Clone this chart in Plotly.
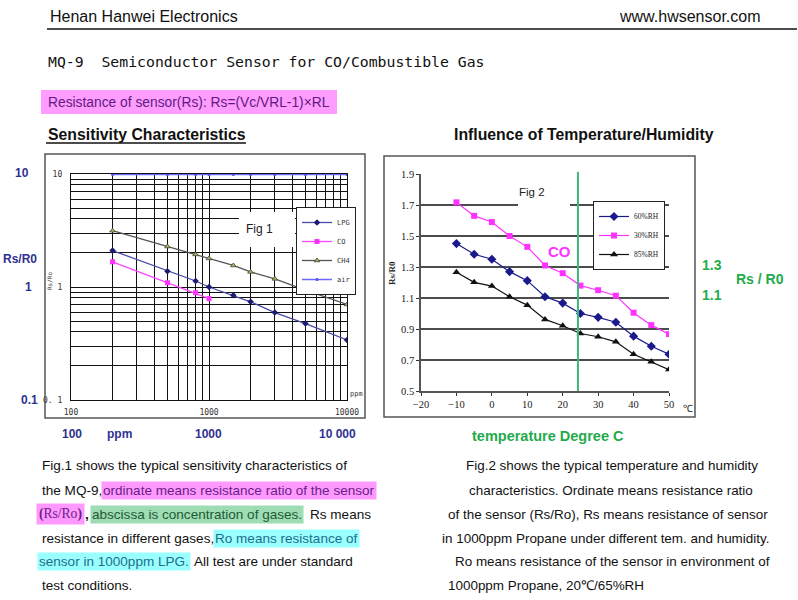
import plotly.graph_objects as go

W, H = 798, 600
def px(x): return x / W
def py(y): return 1 - y / H

# ---------------- data: Fig 1 (sensitivity) ----------------
ppm = [200, 500, 800, 1000, 1500, 2000, 3000, 5000, 10000]
lpg = [2.1, 1.38, 1.13, 1.0, 0.845, 0.74, 0.594, 0.475, 0.34]
co_ppm = [200, 500, 800, 1000]
co = [1.67, 1.09, 0.89, 0.79]
ch4 = [3.15, 2.28, 1.94, 1.79, 1.55, 1.36, 1.18, 0.94, 0.70]
air = [9.9, 9.9, 9.9, 9.9, 9.9, 9.9, 9.9, 9.9, 9.9]
fig1_xgrid = [100, 200, 300, 400, 500, 600, 700, 800, 900,
              1000, 2000, 3000, 4000, 5000, 6000, 7000, 8000, 9000, 10000]
fig1_xlabels = ['100', '', '', '', '', '', '', '', '',
                '1000', '', '', '', '', '', '', '', '', '10000']
fig1_ygrid = [0.1, 0.2, 0.3, 0.4, 0.5, 0.6, 0.7, 0.8, 0.9,
              1, 2, 3, 4, 5, 6, 7, 8, 9, 10]
fig1_ylabels = ['0. 1', '', '', '', '', '', '', '', '',
                '1', '', '', '', '', '', '', '', '', '10']

# ---------------- data: Fig 2 (temperature / humidity) ----------------
temp = [-10, -5, 0, 5, 10, 15, 20, 25, 30, 35, 40, 45, 50]
rh60 = [1.451, 1.382, 1.35, 1.27, 1.212, 1.108, 1.067, 1.0, 0.975, 0.944, 0.854, 0.789, 0.737]
rh30 = [1.717, 1.63, 1.59, 1.50, 1.43, 1.31, 1.26, 1.18, 1.15, 1.115, 1.005, 0.925, 0.867]
rh85 = [1.266, 1.201, 1.177, 1.108, 1.054, 0.962, 0.921, 0.871, 0.85, 0.817, 0.737, 0.688, 0.638]
fig2_xticks = [-20, -10, 0, 10, 20, 30, 40, 50]
fig2_xlabels = ['\u221220', '\u221210', '0', '10', '20', '30', '40', '50']
fig2_yticks = [0.5, 0.7, 0.9, 1.1, 1.3, 1.5, 1.7, 1.9]
fig2_ylabels = ['0.5', '0.7', '0.9', '1.1', '1.3', '1.5', '1.7', '1.9']
fig2_grid = [0.7, 0.9, 1.1, 1.3, 1.5, 1.7]
ref_temp = 24.3

fig = go.Figure()

# Fig 1 traces
fig.add_trace(go.Scatter(x=ppm, y=lpg, name='LPG', mode='lines+markers',
                         line=dict(color='#4a4aa8', width=1.3),
                         marker=dict(symbol='diamond', size=5, color='#1a1a70'),
                         xaxis='x', yaxis='y', legend='legend'))
fig.add_trace(go.Scatter(x=co_ppm, y=co, name='CO', mode='lines+markers',
                         line=dict(color='#ff44ff', width=1.3),
                         marker=dict(symbol='square', size=5, color='#ff33ff'),
                         xaxis='x', yaxis='y', legend='legend'))
fig.add_trace(go.Scatter(x=ppm, y=ch4, name='CH4', mode='lines+markers',
                         line=dict(color='#555555', width=1.3),
                         marker=dict(symbol='triangle-up', size=5, color='#b8b050',
                                     line=dict(color='#444', width=0.8)),
                         xaxis='x', yaxis='y', legend='legend'))
fig.add_trace(go.Scatter(x=ppm, y=air, name='air', mode='lines+markers',
                         line=dict(color='#6b6bff', width=1.5),
                         marker=dict(symbol='circle', size=3, color='#5050ee'),
                         xaxis='x', yaxis='y', legend='legend'))

# Fig 2 traces
fig.add_trace(go.Scatter(x=temp, y=rh60, name='60%RH', mode='lines+markers',
                         line=dict(color='#1a1a8c', width=1.2),
                         marker=dict(symbol='diamond', size=7, color='#1a1a8c'),
                         xaxis='x2', yaxis='y2', legend='legend2'))
fig.add_trace(go.Scatter(x=temp, y=rh30, name='30%RH', mode='lines+markers',
                         line=dict(color='#ff33ff', width=1.2),
                         marker=dict(symbol='square', size=6, color='#ff33ff'),
                         xaxis='x2', yaxis='y2', legend='legend2'))
fig.add_trace(go.Scatter(x=temp, y=rh85, name='85%RH', mode='lines+markers',
                         line=dict(color='#111111', width=1.2),
                         marker=dict(symbol='triangle-up', size=7, color='#111111'),
                         xaxis='x2', yaxis='y2', legend='legend2'))

mono = 'DejaVu Sans Mono'
serif = 'Liberation Serif'
sans = 'Liberation Sans'

fig.update_layout(
    width=W, height=H, margin=dict(l=0, r=0, t=0, b=0, pad=0, autoexpand=False),
    paper_bgcolor='white', plot_bgcolor='white',
    xaxis=dict(type='log', range=[2, 4], domain=[px(71), px(347)], anchor='y',
               tickvals=fig1_xgrid, ticktext=fig1_xlabels, ticks='',
               showgrid=True, gridcolor='#111', gridwidth=1.3,
               showline=True, linecolor='#111', linewidth=1.3, mirror=True,
               zeroline=False, tickfont=dict(family=mono, size=8, color='#333'),
               ticklabelstandoff=4, automargin=False),
    yaxis=dict(type='log', range=[-1, 1], domain=[py(400), py(174)], anchor='x',
               tickvals=fig1_ygrid, ticktext=fig1_ylabels, ticks='',
               showgrid=True, gridcolor='#111', gridwidth=1.3,
               showline=True, linecolor='#111', linewidth=1.3, mirror=True,
               zeroline=False, tickfont=dict(family=mono, size=8, color='#333'),
               ticklabelstandoff=6, automargin=False),
    xaxis2=dict(range=[-20, 50], domain=[px(421), px(669)], anchor='y2',
                tickvals=fig2_xticks, ticktext=fig2_xlabels,
                ticks='outside', ticklen=3, tickcolor='#333',
                showgrid=False, zeroline=False,
                showline=True, linecolor='#555', linewidth=1.5,
                tickfont=dict(family=serif, size=10.5, color='#222'), automargin=False),
    yaxis2=dict(range=[0.5, 1.9], domain=[py(391), py(174)], anchor='x2',
                tickvals=fig2_yticks, ticktext=fig2_ylabels,
                ticks='outside', ticklen=3, tickcolor='#333',
                showgrid=False, zeroline=False,
                showline=True, linecolor='#555', linewidth=1.5,
                tickfont=dict(family=serif, size=10.5, color='#222'), automargin=False),
    legend=dict(x=px(296), y=py(207), xanchor='left', yanchor='top',
                bgcolor='white', bordercolor='#222', borderwidth=1,
                font=dict(family=mono, size=7, color='#333'),
                tracegroupgap=0, itemwidth=30),
    legend2=dict(x=px(593), y=py(201), xanchor='left', yanchor='top',
                 bgcolor='white', bordercolor='#222', borderwidth=1,
                 font=dict(family=serif, size=7.5, color='#222'),
                 tracegroupgap=0, itemwidth=30),
    showlegend=True,
)

shapes = []
# outer boxes of the two figures
shapes.append(dict(type='rect', xref='paper', yref='paper', x0=px(45), x1=px(365),
                   y0=py(418), y1=py(154), line=dict(color='#555', width=1.5)))
shapes.append(dict(type='rect', xref='paper', yref='paper', x0=px(384), x1=px(695),
                   y0=py(417), y1=py(156), line=dict(color='#555', width=1.5)))
# Fig 2 horizontal grid
for g in fig2_grid:
    shapes.append(dict(type='line', xref='x2 domain', yref='y2', x0=0, x1=1, y0=g, y1=g,
                       line=dict(color='#111', width=1.3), layer='below'))
# green reference line
shapes.append(dict(type='line', xref='x2', yref='y2 domain', x0=ref_temp, x1=ref_temp,
                   y0=0, y1=1.01, line=dict(color='#3cb878', width=2), layer='above'))
# white patches behind figure labels
shapes.append(dict(type='rect', xref='paper', yref='paper', x0=px(239), x1=px(295),
                   y0=py(247), y1=py(212), fillcolor='white', line=dict(width=0), layer='above'))
shapes.append(dict(type='rect', xref='paper', yref='paper', x0=px(518), x1=px(570),
                   y0=py(207), y1=py(182), fillcolor='white', line=dict(width=0), layer='above'))
# header rule
shapes.append(dict(type='line', xref='paper', yref='paper', x0=px(47), x1=px(797),
                   y0=py(29), y1=py(29), line=dict(color='#111', width=1.5)))
# pink formula box
shapes.append(dict(type='rect', xref='paper', yref='paper', x0=px(41), x1=px(337),
                   y0=py(114), y1=py(90), fillcolor='#ff9cff', line=dict(width=0), layer='below'))
# underline of section title
shapes.append(dict(type='line', xref='paper', yref='paper', x0=px(46), x1=px(246),
                   y0=py(143), y1=py(143), line=dict(color='#111', width=1.5)))
fig.update_layout(shapes=shapes)

ann = []
def T(x, y, text, size=13.55, color='#111', family=sans, xanchor='left', bg=None,
      angle=0, pad=1):
    d = dict(xref='paper', yref='paper', x=px(x), y=py(y), text=text, showarrow=False,
             xanchor=xanchor, yanchor='middle', textangle=angle,
             font=dict(family=family, size=size, color=color), borderpad=pad)
    if bg:
        d['bgcolor'] = bg
    ann.append(d)

# header
T(48, 17, 'Henan Hanwei Electronics', size=16)
T(763, 17, 'www.hwsensor.com', size=16, xanchor='right')
T(46, 61, 'MQ-9\u00a0\u00a0Semiconductor Sensor for CO/Combustible Gas', size=14.8, family=mono)
T(46, 102, 'Resistance of sensor(Rs): Rs=(Vc/VRL-1)\u00d7RL', size=13.8, color='#5e1a80')
T(46, 134, '<b>Sensitivity Characteristics</b>', size=15.8)
T(452, 134, '<b>Influence of Temperature/Humidity</b>', size=15.8)

# Fig 1 decorations
blue = '#2e3192'
T(22, 173, '<b>10</b>', size=12, color=blue, xanchor='center')
T(20, 259, '<b>Rs/R0</b>', size=12, color=blue, xanchor='center')
T(28, 287, '<b>1</b>', size=12, color=blue, xanchor='center')
T(29, 400, '<b>0.1</b>', size=12, color=blue, xanchor='center')
T(72, 434, '<b>100</b>', size=12, color=blue, xanchor='center')
T(119, 434, '<b>ppm</b>', size=12, color=blue, xanchor='center')
T(208, 434, '<b>1000</b>', size=12, color=blue, xanchor='center')
T(337, 434, '<b>10 000</b>', size=12, color=blue, xanchor='center')
T(356, 394, 'ppm', size=7, family=mono, color='#333', xanchor='center')
T(50, 281, 'Rs/Ro', size=6, family=mono, color='#333', xanchor='center', angle=-90)
T(259, 229, 'Fig 1', size=12, color='#222', xanchor='center')

# Fig 2 decorations
green = '#1fab4c'
T(532, 192, 'Fig 2', size=11.5, color='#222', xanchor='center')
T(559, 252, '<b>CO</b>', size=15, color='#ff33ff', xanchor='center')
T(688, 408, '\u2103', size=10, family=serif, color='#222', xanchor='center')
T(392, 273, '<b>Rs/R0</b>', size=9, family=serif, color='#222', xanchor='center', angle=-90)
T(712, 265, '<b>1.3</b>', size=14, color=green, xanchor='center')
T(760, 279, '<b>Rs / R0</b>', size=14, color=green, xanchor='center')
T(712, 295, '<b>1.1</b>', size=14, color=green, xanchor='center')
T(548, 436, '<b>temperature Degree C</b>', size=14.5, color=green, xanchor='center')

# left paragraph
pink_bg, green_bg, cyan_bg = '#ff99ff', '#9edcb4', '#99ffff'
T(40, 466, 'Fig.1 shows the typical sensitivity characteristics of')
T(40, 490, 'the MQ-9,')
T(101, 490, 'ordinate means resistance ratio of the sensor', color='#6a2088', bg=pink_bg)
T(36, 514, '<b>(</b>Rs/Ro<b>)</b>', family=serif, color='#6a2088', bg=pink_bg, pad=2)
T(83, 514, '<b>,</b>')
T(90, 514, 'abscissa is concentration of gases.', color='#1e5a32', bg=green_bg)
T(308, 514, 'Rs means')
T(40, 538, 'resistance in different gases,')
T(213, 538, 'Ro means resistance of', color='#1f6e8c', bg=cyan_bg)
T(37, 561, 'sensor in 1000ppm LPG.', color='#1f6e8c', bg=cyan_bg)
T(192, 561, 'All test are under standard')
T(40, 585, 'test conditions.')

# right paragraph
T(464, 466, 'Fig.2 shows the typical temperature and humidity', size=13.45)
T(467, 490, 'characteristics. Ordinate means resistance ratio', size=13.45)
T(446, 514, 'of the sensor (Rs/Ro), Rs means resistance of sensor', size=13.45)
T(440, 538, 'in 1000ppm Propane under different tem. and humidity.', size=13.45)
T(453, 561, 'Ro means resistance of the sensor in environment of', size=13.45)
T(446, 585, '1000ppm Propane, 20\u2103/65%RH', size=13.45)

fig.update_layout(annotations=ann)
fig.write_html('out.html',
               config={'displayModeBar': False},
               post_script="document.body.style.margin='0';"
                           "document.body.style.overflow='hidden';")
